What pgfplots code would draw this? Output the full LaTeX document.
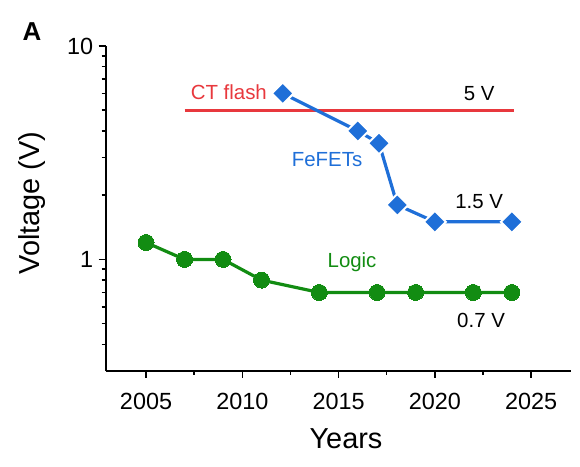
\documentclass[border=0pt]{standalone}
\usepackage{pgfplots}
\pgfplotsset{compat=1.18}
\usepackage{fontspec}
\setmainfont{Liberation Sans}
\definecolor{ctred}{RGB}{232,56,61}
\definecolor{feblue}{RGB}{31,111,216}
\definecolor{logicgreen}{RGB}{18,140,18}
\begin{document}
\begin{tikzpicture}
\path[use as bounding box] (0,0) rectangle (580bp,467bp);
\node[font=\fontsize{26}{30}\selectfont\bfseries] at (32bp,435bp) {A};
\begin{axis}[
    at={(105.6bp,96bp)}, anchor=south west,
    scale only axis, width=465bp, height=325bp,
    ymode=log, ymin=0.3, ymax=10,
    xmin=2002.9, xmax=2027.05,
    xtick={2005,2010,...,2025}, minor x tick num=1,
    ytick={1,10}, yticklabels={1,10},
    minor ytick={0.4,0.5,0.6,0.7,0.8,0.9,2,3,4,5,6,7,8,9},
    axis x line*=bottom, axis y line*=left,
    axis line style={line width=1.8bp, -},
    tick align=outside,
    major tick length=7bp, minor tick length=4bp,
    every tick/.style={black, line width=1.5bp},
    /pgf/number format/assume math mode=true,
    /pgf/number format/1000 sep={},
    ticklabel style={font=\fontsize{23.5}{28}\selectfont},
    xticklabel style={yshift=-12bp},
    yticklabel style={xshift=-2bp},
    xlabel={Years}, ylabel={Voltage (V)},
    label style={font=\fontsize{29}{34}\selectfont},
    xlabel style={at={(axis description cs:0.517,0)}, anchor=center, yshift=-68bp},
    ylabel style={at={(axis description cs:-0.158,0.517)}, anchor=center},
    clip=false,
]
\addplot[ctred, line width=3bp, no marks] coordinates {
    (2007,5) (2024.1,5)
};
\addplot[feblue, line width=3.2bp, mark=diamond*, mark size=11bp,
    mark options={fill=feblue, draw=white, line width=2bp, xscale=1.333}] coordinates {
    (2012.1,6.0) (2016,4.0) (2017.1,3.5) (2018.05,1.8) (2020,1.5) (2024,1.5)
};
\addplot[logicgreen, line width=3.2bp, mark=*, mark size=8bp,
    mark options={fill=logicgreen, draw=logicgreen, line width=0bp}] coordinates {
    (2005,1.2) (2007,1.0) (2009,1.0) (2011,0.8) (2014,0.7)
    (2017,0.7) (2019,0.7) (2022,0.7) (2024,0.7)
};
\node[ctred, font=\fontsize{20.5}{24}\selectfont] at (axis cs:2009.3,6.1) {CT flash};
\node[font=\fontsize{20.5}{24}\selectfont] at (axis cs:2022.3,6.0) {5 V};
\node[feblue, font=\fontsize{20.5}{24}\selectfont] at (axis cs:2014.4,2.93) {FeFETs};
\node[font=\fontsize{20.5}{24}\selectfont] at (axis cs:2022.3,1.86) {1.5 V};
\node[logicgreen, font=\fontsize{20.5}{24}\selectfont] at (axis cs:2015.7,0.965) {Logic};
\node[font=\fontsize{20.5}{24}\selectfont] at (axis cs:2022.4,0.515) {0.7 V};
\end{axis}
\end{tikzpicture}
\end{document}
